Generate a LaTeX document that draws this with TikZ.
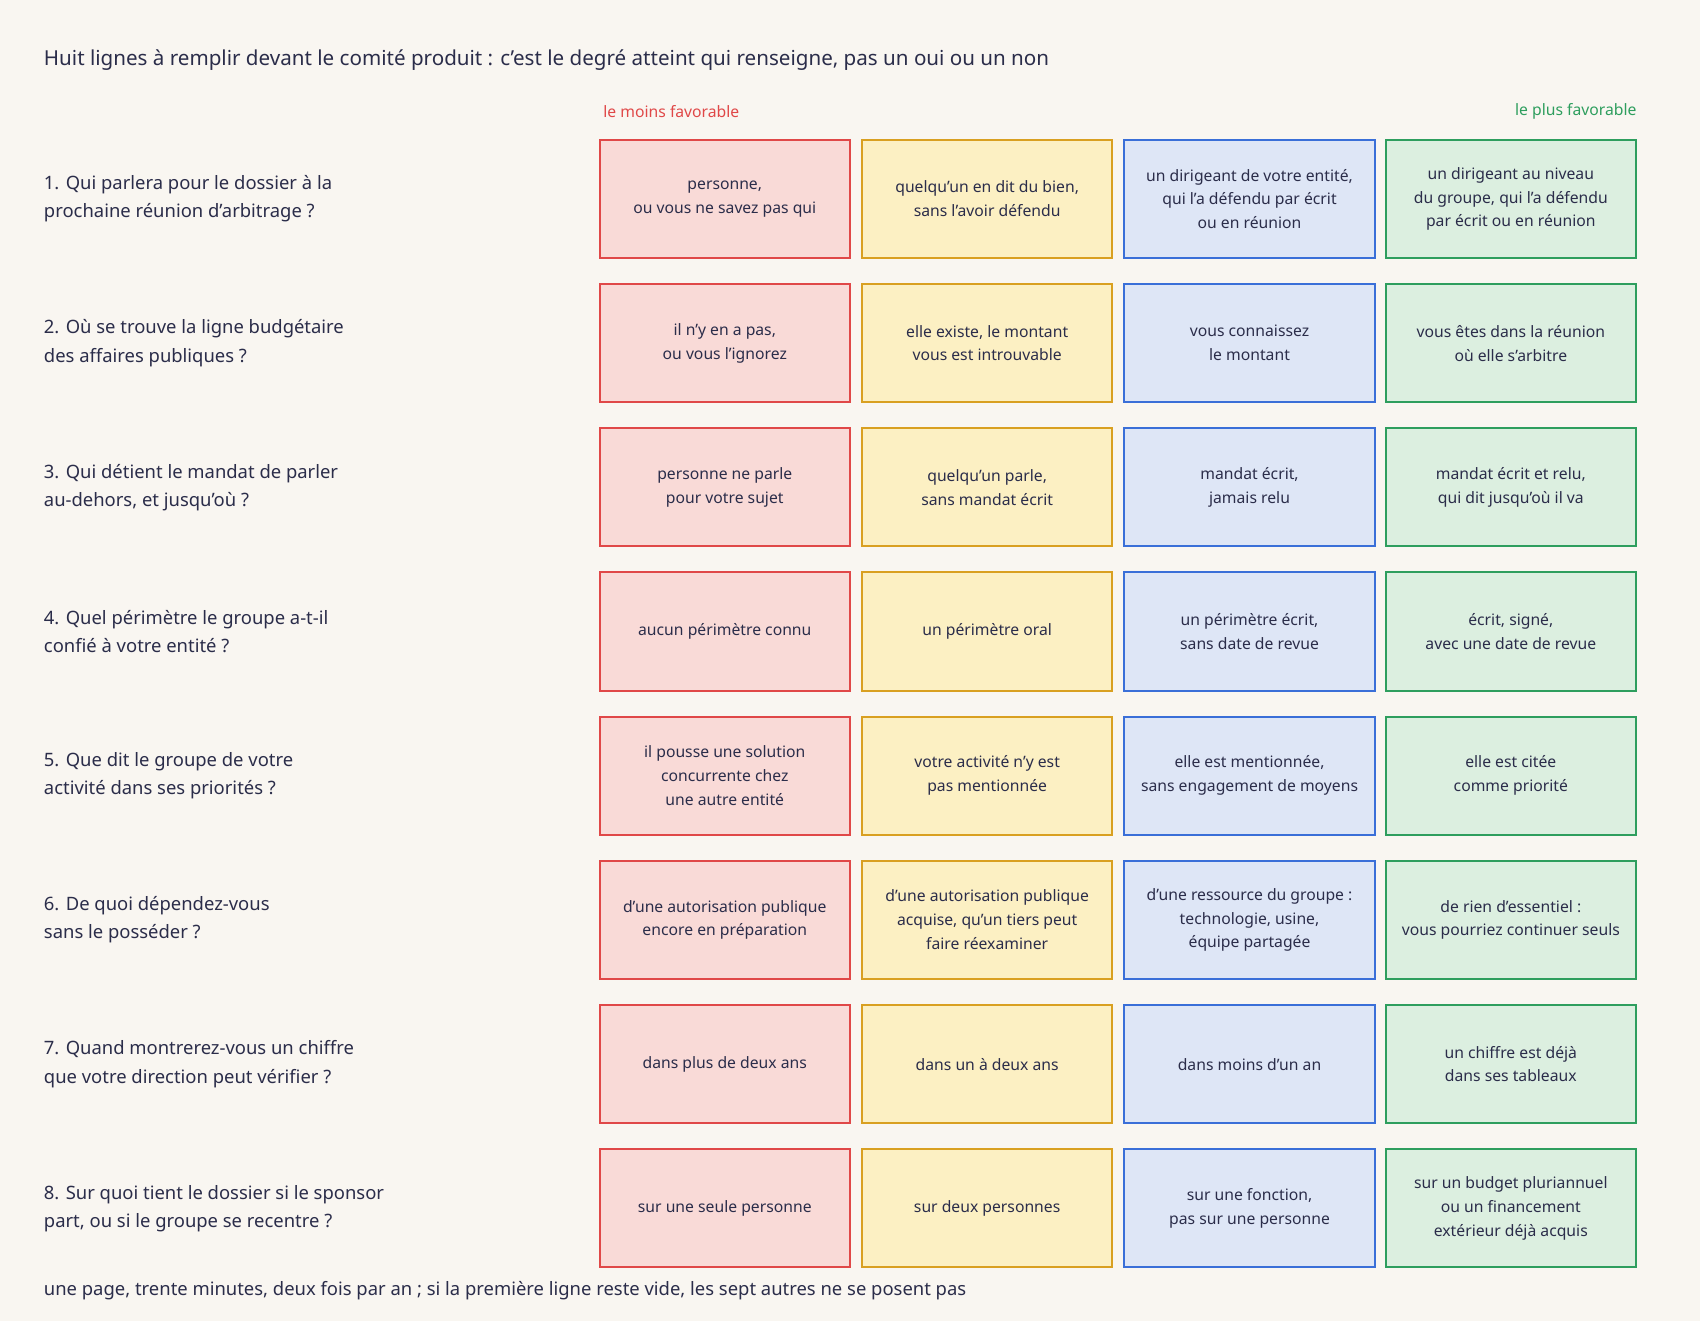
\documentclass[tikz,border=0pt]{standalone}
\usepackage{fontspec}
\setmainfont{Noto Sans}
\definecolor{bg}{HTML}{F9F6F1}
\definecolor{ink}{HTML}{2B2D4A}
\definecolor{rS}{HTML}{E04848}\definecolor{rF}{HTML}{F9DAD7}
\definecolor{yS}{HTML}{D9A021}\definecolor{yF}{HTML}{FCF0C3}
\definecolor{bS}{HTML}{3A6FD8}\definecolor{bF}{HTML}{DEE6F6}
\definecolor{gS}{HTML}{2E9E5E}\definecolor{gF}{HTML}{DCEFE0}
\newcommand{\cellbox}[4]{% col style, col x, row, text
  \node[box,c#1] (c#3#1) at (#2,{1218-183.5-133*(#3-1)}) {#4};}
\newcommand{\rowlab}[2]{%
  \node[lab] (q#1) at (37,{1218-183.5-133*(#1-1)}) {#2};}
\begin{document}
\begin{tikzpicture}[x=1pt,y=1pt,
  box/.style={draw,line width=1.8pt,minimum width=231pt,minimum height=109pt,align=center,text=ink,font=\fontsize{14.5}{22}\selectfont},
  cr/.style={draw=rS,fill=rF},cy/.style={draw=yS,fill=yF},cb/.style={draw=bS,fill=bF},cg/.style={draw=gS,fill=gF},
  lab/.style={anchor=west,align=left,text=ink,font=\fontsize{17}{26}\selectfont}]
\fill[bg] (0,0) rectangle (1568,1218);
\node[anchor=west,text=ink,font=\bfseries\fontsize{19}{24}\selectfont] (title) at (37,1163) {Huit lignes à remplir devant le comité produit : c'est le degré atteint qui renseigne, pas un oui ou un non};
\node[anchor=west,text=rS,font=\bfseries\fontsize{14.5}{18}\selectfont] (lo) at (553,1115) {le moins favorable};
\node[anchor=east,text=gS,font=\bfseries\fontsize{14.5}{18}\selectfont] (hi) at (1513,1115) {le plus favorable};
\rowlab{1}{1. Qui parlera pour le dossier à la\\prochaine réunion d'arbitrage ?}
\rowlab{2}{2. Où se trouve la ligne budgétaire\\des affaires publiques ?}
\rowlab{3}{3. Qui détient le mandat de parler\\au-dehors, et jusqu'où ?}
\rowlab{4}{4. Quel périmètre le groupe a-t-il\\confié à votre entité ?}
\rowlab{5}{5. Que dit le groupe de votre\\activité dans ses priorités ?}
\rowlab{6}{6. De quoi dépendez-vous\\sans le posséder ?}
\rowlab{7}{7. Quand montrerez-vous un chiffre\\que votre direction peut vérifier ?}
\rowlab{8}{8. Sur quoi tient le dossier si le sponsor\\part, ou si le groupe se recentre ?}
\def\xa{668.5}\def\xb{910.5}\def\xc{1152.5}\def\xd{1393.5}
\cellbox{r}{\xa}{1}{personne,\\ou vous ne savez pas qui}
\cellbox{y}{\xb}{1}{quelqu'un en dit du bien,\\sans l'avoir défendu}
\cellbox{b}{\xc}{1}{un dirigeant de votre entité,\\qui l'a défendu par écrit\\ou en réunion}
\cellbox{g}{\xd}{1}{un dirigeant au niveau\\du groupe, qui l'a défendu\\par écrit ou en réunion}
\cellbox{r}{\xa}{2}{il n'y en a pas,\\ou vous l'ignorez}
\cellbox{y}{\xb}{2}{elle existe, le montant\\vous est introuvable}
\cellbox{b}{\xc}{2}{vous connaissez\\le montant}
\cellbox{g}{\xd}{2}{vous êtes dans la réunion\\où elle s'arbitre}
\cellbox{r}{\xa}{3}{personne ne parle\\pour votre sujet}
\cellbox{y}{\xb}{3}{quelqu'un parle,\\sans mandat écrit}
\cellbox{b}{\xc}{3}{mandat écrit,\\jamais relu}
\cellbox{g}{\xd}{3}{mandat écrit et relu,\\qui dit jusqu'où il va}
\cellbox{r}{\xa}{4}{aucun périmètre connu}
\cellbox{y}{\xb}{4}{un périmètre oral}
\cellbox{b}{\xc}{4}{un périmètre écrit,\\sans date de revue}
\cellbox{g}{\xd}{4}{écrit, signé,\\avec une date de revue}
\cellbox{r}{\xa}{5}{il pousse une solution\\concurrente chez\\une autre entité}
\cellbox{y}{\xb}{5}{votre activité n'y est\\pas mentionnée}
\cellbox{b}{\xc}{5}{elle est mentionnée,\\sans engagement de moyens}
\cellbox{g}{\xd}{5}{elle est citée\\comme priorité}
\cellbox{r}{\xa}{6}{d'une autorisation publique\\encore en préparation}
\cellbox{y}{\xb}{6}{d'une autorisation publique\\acquise, qu'un tiers peut\\faire réexaminer}
\cellbox{b}{\xc}{6}{d'une ressource du groupe :\\technologie, usine,\\équipe partagée}
\cellbox{g}{\xd}{6}{de rien d'essentiel :\\vous pourriez continuer seuls}
\cellbox{r}{\xa}{7}{dans plus de deux ans}
\cellbox{y}{\xb}{7}{dans un à deux ans}
\cellbox{b}{\xc}{7}{dans moins d'un an}
\cellbox{g}{\xd}{7}{un chiffre est déjà\\dans ses tableaux}
\cellbox{r}{\xa}{8}{sur une seule personne}
\cellbox{y}{\xb}{8}{sur deux personnes}
\cellbox{b}{\xc}{8}{sur une fonction,\\pas sur une personne}
\cellbox{g}{\xd}{8}{sur un budget pluriannuel\\ou un financement\\extérieur déjà acquis}
\node[anchor=west,text=ink,font=\fontsize{17}{22}\selectfont] (foot) at (37,28) {une page, trente minutes, deux fois par an ; si la première ligne reste vide, les sept autres ne se posent pas};
\end{tikzpicture}
\end{document}
